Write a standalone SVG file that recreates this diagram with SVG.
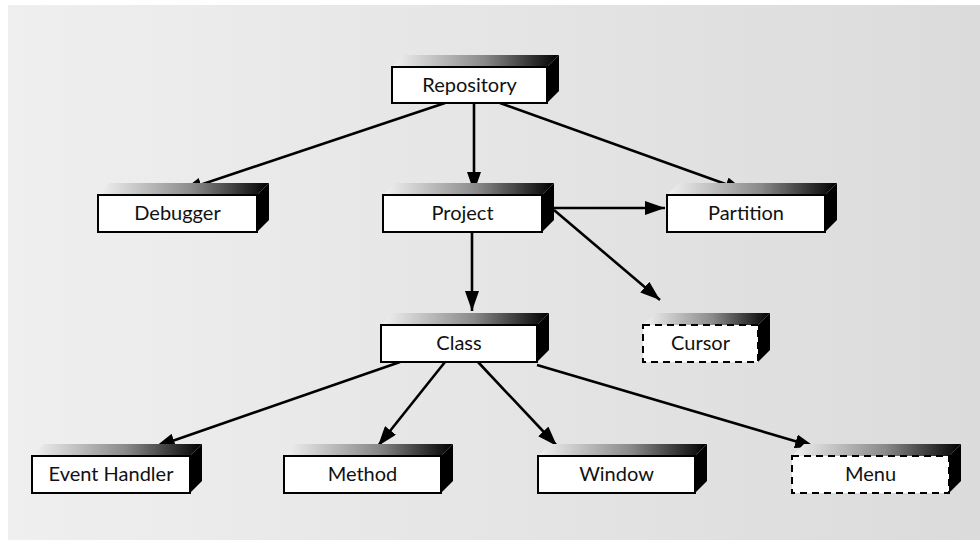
<svg xmlns="http://www.w3.org/2000/svg" width="980" height="540" viewBox="0 0 980 540">
  <defs>
    <linearGradient id="panel" x1="0" y1="0" x2="1" y2="0">
      <stop offset="0" stop-color="#efefef"/>
      <stop offset="1" stop-color="#dbdbdb"/>
    </linearGradient>
    <linearGradient id="topface" x1="0" y1="0" x2="1" y2="0">
      <stop offset="0" stop-color="#f2f2f2"/>
      <stop offset="0.55" stop-color="#8a8a8a"/>
      <stop offset="1" stop-color="#000000"/>
    </linearGradient>
    <marker id="arrow" markerUnits="userSpaceOnUse" markerWidth="22" markerHeight="14" refX="20" refY="7" orient="auto">
      <path d="M0,0 L20,7 L0,14 Z" fill="#000"/>
    </marker>
    <style>
      .front { fill: #fff; stroke: #000; stroke-width: 2; }
      .dashed { stroke-dasharray: 7 5; }
      .top { fill: url(#topface); }
      .side { fill: #000; }
      .label { font-family: "Lato", "Liberation Sans", sans-serif; font-size: 20px; fill: #111; text-anchor: middle; }
      .conn { stroke: #000; stroke-width: 2.6; fill: none; marker-end: url(#arrow); }
    </style>
  </defs>

  <rect x="8" y="5" width="972" height="535" fill="url(#panel)"/>

  <g id="connectors">
    <line class="conn" x1="445" y1="103" x2="182" y2="191"/>
    <line class="conn" x1="474" y1="103" x2="474" y2="192"/>
    <line class="conn" x1="500" y1="103" x2="745" y2="191"/>
    <line class="conn" x1="554" y1="208" x2="665" y2="208"/>
    <line class="conn" x1="554" y1="210" x2="660" y2="300"/>
    <line class="conn" x1="472" y1="232" x2="472" y2="311"/>
    <line class="conn" x1="400" y1="362" x2="155" y2="447"/>
    <line class="conn" x1="445" y1="362" x2="378" y2="446"/>
    <line class="conn" x1="478" y1="362" x2="557" y2="446"/>
    <line class="conn" x1="537" y1="365" x2="815" y2="447"/>
  </g>

  <!-- each box: top face, side face, front face, label -->
  <g id="repository">
    <path class="top" d="M392,67 L547,67 L559,55 L404,55 Z"/>
    <path class="side" d="M547,67 L559,55 L559,91 L547,103 Z"/>
    <rect class="front" x="392" y="67" width="155" height="36"/>
    <text class="label" x="469.5" y="92">Repository</text>
  </g>

  <g id="debugger">
    <path class="top" d="M98,195 L257,195 L269,183 L110,183 Z"/>
    <path class="side" d="M257,195 L269,183 L269,220 L257,232 Z"/>
    <rect class="front" x="98" y="195" width="159" height="37"/>
    <text class="label" x="177.5" y="220">Debugger</text>
  </g>

  <g id="project">
    <path class="top" d="M383,195 L542,195 L554,183 L395,183 Z"/>
    <path class="side" d="M542,195 L554,183 L554,220 L542,232 Z"/>
    <rect class="front" x="383" y="195" width="159" height="37"/>
    <text class="label" x="462.5" y="220">Project</text>
  </g>

  <g id="partition">
    <path class="top" d="M667,195 L825,195 L837,183 L679,183 Z"/>
    <path class="side" d="M825,195 L837,183 L837,220 L825,232 Z"/>
    <rect class="front" x="667" y="195" width="158" height="37"/>
    <text class="label" x="746" y="220">Partition</text>
  </g>

  <g id="class">
    <path class="top" d="M381,325 L537,325 L549,313 L393,313 Z"/>
    <path class="side" d="M537,325 L549,313 L549,350 L537,362 Z"/>
    <rect class="front" x="381" y="325" width="156" height="37"/>
    <text class="label" x="459" y="350">Class</text>
  </g>

  <g id="cursor">
    <path class="top" d="M643,325 L758,325 L770,313 L655,313 Z"/>
    <path class="side" d="M758,325 L770,313 L770,350 L758,362 Z"/>
    <rect class="front dashed" x="643" y="325" width="115" height="37"/>
    <text class="label" x="700.5" y="350">Cursor</text>
  </g>

  <g id="event-handler">
    <path class="top" d="M32,456 L190,456 L202,444 L44,444 Z"/>
    <path class="side" d="M190,456 L202,444 L202,481 L190,493 Z"/>
    <rect class="front" x="32" y="456" width="158" height="37"/>
    <text class="label" x="111" y="481">Event Handler</text>
  </g>

  <g id="method">
    <path class="top" d="M284,456 L441,456 L453,444 L296,444 Z"/>
    <path class="side" d="M441,456 L453,444 L453,481 L441,493 Z"/>
    <rect class="front" x="284" y="456" width="157" height="37"/>
    <text class="label" x="362.5" y="481">Method</text>
  </g>

  <g id="window">
    <path class="top" d="M538,456 L695,456 L707,444 L550,444 Z"/>
    <path class="side" d="M695,456 L707,444 L707,481 L695,493 Z"/>
    <rect class="front" x="538" y="456" width="157" height="37"/>
    <text class="label" x="616.5" y="481">Window</text>
  </g>

  <g id="menu">
    <path class="top" d="M792,456 L949,456 L961,444 L804,444 Z"/>
    <path class="side" d="M949,456 L961,444 L961,481 L949,493 Z"/>
    <rect class="front dashed" x="792" y="456" width="157" height="37"/>
    <text class="label" x="870.5" y="481">Menu</text>
  </g>
</svg>
